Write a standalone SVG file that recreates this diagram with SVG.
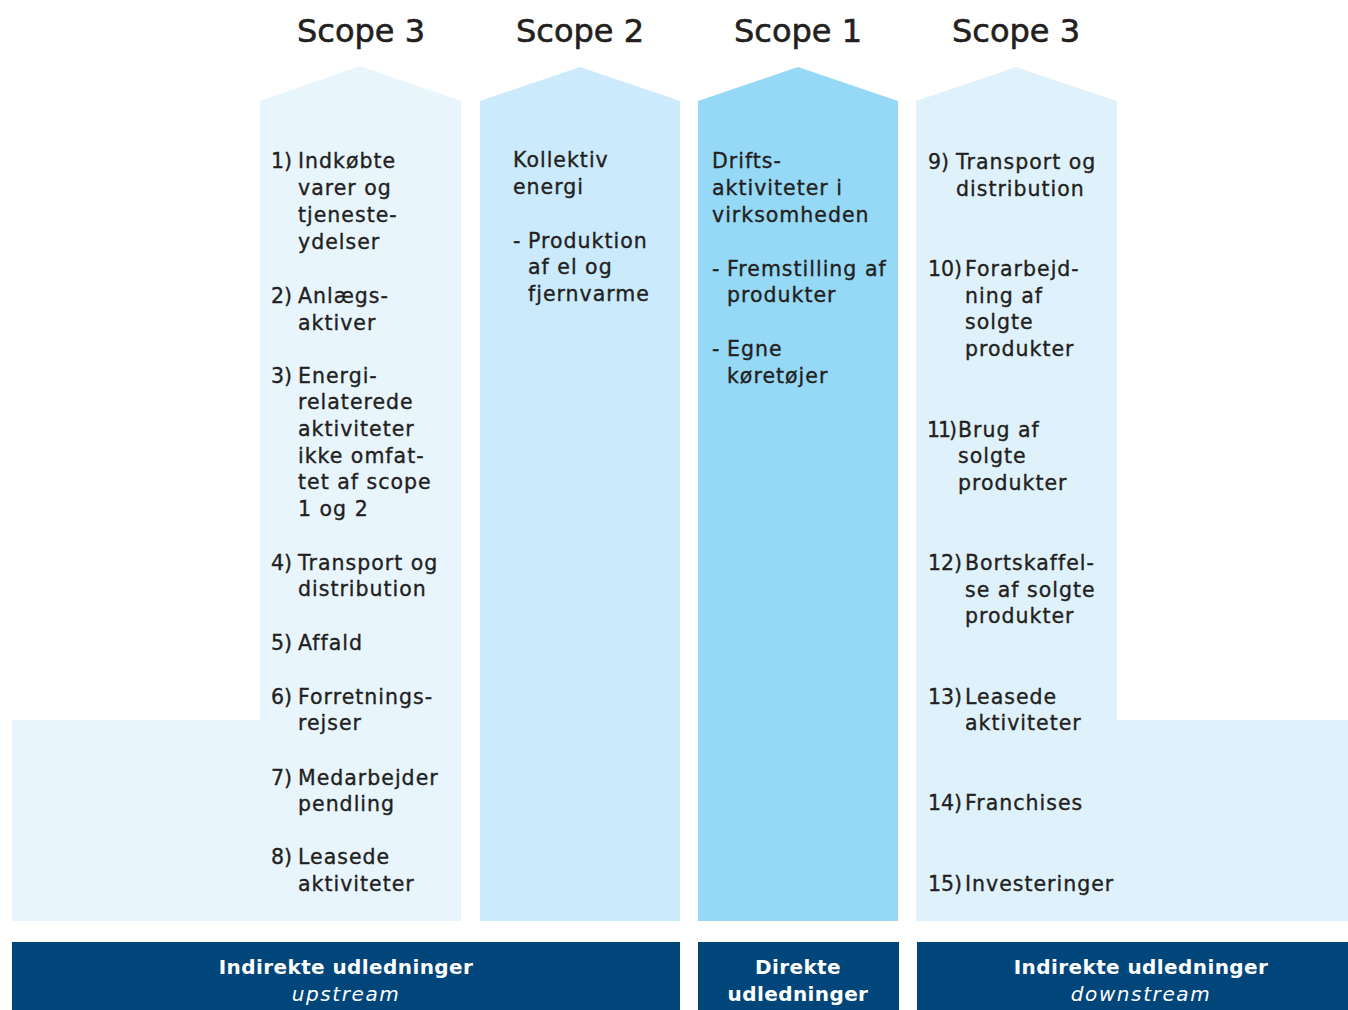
<svg xmlns="http://www.w3.org/2000/svg" width="1348" height="1010" viewBox="0 0 1348 1010">
<style>
.hd{font-family:"DejaVu Sans",sans-serif;font-size:32px;fill:#231f20;stroke:#231f20;stroke-width:0.6px;text-anchor:middle}
.t{font-family:"DejaVu Sans",sans-serif;font-size:20.5px;fill:#231f20;stroke:#231f20;stroke-width:0.35px;letter-spacing:1px}
.n{letter-spacing:0px}
.bb{font-family:"DejaVu Sans",sans-serif;font-size:20px;font-weight:bold;fill:#ffffff;text-anchor:middle;letter-spacing:0.4px}
.bi{font-family:"DejaVu Sans",sans-serif;font-size:20px;font-style:italic;fill:#ffffff;text-anchor:middle;letter-spacing:1.6px}
.bar{fill:#01467a}
</style>
<rect width="1348" height="1010" fill="#ffffff"/>
<g id="scope3-upstream">
<polygon points="260,101 360,66 461,101 461,921 12,921 12,720 260,720" fill="#e8f5fd"/>
<text class="hd" x="361" y="42">Scope 3</text>
<g class="t">
<text class="n" x="271" y="168">1)</text><text x="298" y="168">Indkøbte</text>
<text x="298" y="195">varer og</text>
<text x="298" y="222">tjeneste-</text>
<text x="298" y="249">ydelser</text>
<text class="n" x="271" y="303">2)</text><text x="298" y="303">Anlægs-</text>
<text x="298" y="330">aktiver</text>
<text class="n" x="271" y="383">3)</text><text x="298" y="383">Energi-</text>
<text x="298" y="409">relaterede</text>
<text x="298" y="436">aktiviteter</text>
<text x="298" y="463">ikke omfat-</text>
<text x="298" y="489">tet af scope</text>
<text x="298" y="516">1 og 2</text>
<text class="n" x="271" y="570">4)</text><text x="298" y="570">Transport og</text>
<text x="298" y="596">distribution</text>
<text class="n" x="271" y="650">5)</text><text x="298" y="650">Affald</text>
<text class="n" x="271" y="704">6)</text><text x="298" y="704">Forretnings-</text>
<text x="298" y="730">rejser</text>
<text class="n" x="271" y="785">7)</text><text x="298" y="785">Medarbejder</text>
<text x="298" y="811">pendling</text>
<text class="n" x="271" y="864">8)</text><text x="298" y="864">Leasede</text>
<text x="298" y="891">aktiviteter</text>
</g>
</g>
<g id="scope2">
<polygon points="480,101 580,67 680,101 680,921 480,921" fill="#cbeafb"/>
<text class="hd" x="580" y="42">Scope 2</text>
<g class="t">
<text x="513" y="167">Kollektiv</text>
<text x="513" y="194">energi</text>
<text x="513" y="248">-</text><text x="528" y="248">Produktion</text>
<text x="528" y="274">af el og</text>
<text x="528" y="301">fjernvarme</text>
</g>
</g>
<g id="scope1">
<polygon points="698,101 798,67 898,101 898,921 698,921" fill="#95d9f7"/>
<text class="hd" x="798" y="42">Scope 1</text>
<g class="t">
<text x="712" y="168">Drifts-</text>
<text x="712" y="195">aktiviteter i</text>
<text x="712" y="222">virksomheden</text>
<text x="712" y="276">-</text><text x="727" y="276">Fremstilling af</text>
<text x="727" y="302">produkter</text>
<text x="712" y="356">-</text><text x="727" y="356">Egne</text>
<text x="727" y="383">køretøjer</text>
</g>
</g>
<g id="scope3-downstream">
<polygon points="916,101 1016,67 1117,101 1117,720 1348,720 1348,921 916,921" fill="#dff2fc"/>
<text class="hd" x="1016" y="42">Scope 3</text>
<g class="t">
<text class="n" x="928" y="169">9)</text><text x="956" y="169">Transport og</text>
<text x="956" y="196">distribution</text>
<text class="n" x="928" y="276">10)</text><text x="965" y="276">Forarbejd-</text>
<text x="965" y="303">ning af</text>
<text x="965" y="329">solgte</text>
<text x="965" y="356">produkter</text>
<text class="n" x="927" y="437" style="letter-spacing:-2px">11)</text><text x="958" y="437">Brug af</text>
<text x="958" y="463">solgte</text>
<text x="958" y="490">produkter</text>
<text class="n" x="928" y="570">12)</text><text x="965" y="570">Bortskaffel-</text>
<text x="965" y="597">se af solgte</text>
<text x="965" y="623">produkter</text>
<text class="n" x="928" y="704">13)</text><text x="965" y="704">Leasede</text>
<text x="965" y="730">aktiviteter</text>
<text class="n" x="928" y="810">14)</text><text x="965" y="810">Franchises</text>
<text class="n" x="928" y="891">15)</text><text x="965" y="891">Investeringer</text>
</g>
</g>
<g id="bar-upstream">
<rect class="bar" x="12" y="942" width="668" height="68"/>
<text class="bb" x="346" y="974">Indirekte udledninger</text>
<text class="bi" x="346" y="1001">upstream</text>
</g>
<g id="bar-direct">
<rect class="bar" x="698" y="942" width="201" height="68"/>
<text class="bb" x="798" y="974">Direkte</text>
<text class="bb" x="798" y="1001">udledninger</text>
</g>
<g id="bar-downstream">
<rect class="bar" x="917" y="942" width="431" height="68"/>
<text class="bb" x="1141" y="974">Indirekte udledninger</text>
<text class="bi" x="1141" y="1001">downstream</text>
</g>
<g id="connectors"/>
</svg>
